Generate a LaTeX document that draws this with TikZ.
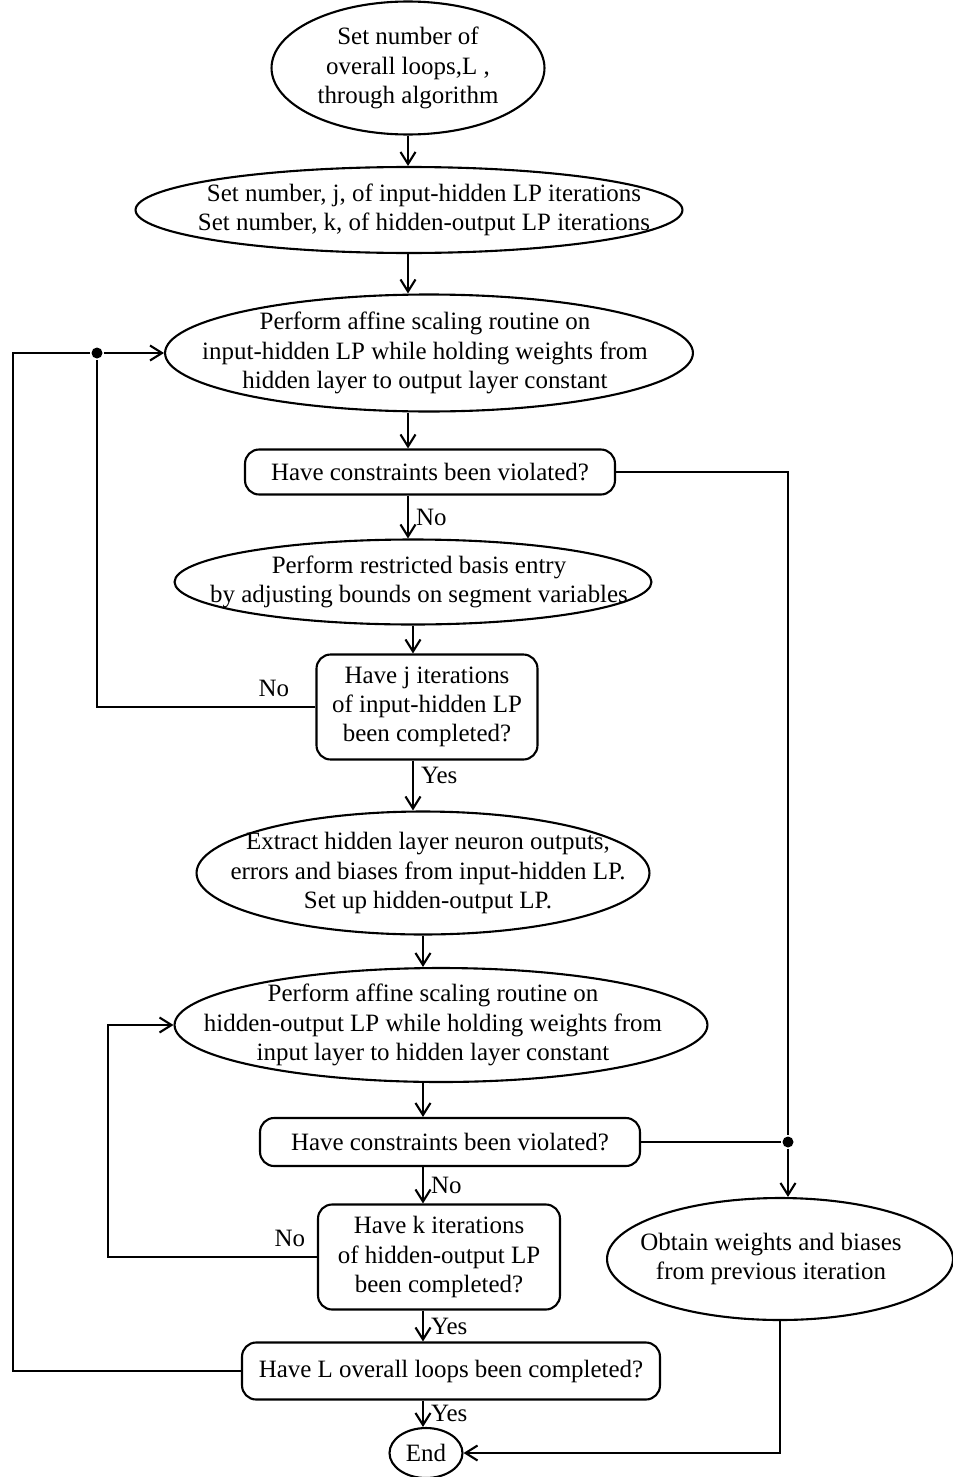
\documentclass[tikz,border=0pt]{standalone}
\usepackage{fontspec}
\setmainfont{Liberation Serif}
\usetikzlibrary{shapes.geometric,arrows.meta}

\begin{document}
\begin{tikzpicture}[x=0.02cm, y=-0.02cm, line width=1.2pt,
	every node/.style={font=\fontsize{14.2}{16.6}\selectfont},
	oval/.style={draw, ellipse, inner sep=0pt},
	txt/.style={align=center, inner sep=0pt},
	test/.style={draw, rounded corners=8pt, align=center, inner sep=0pt},
	flow/.style={-{Straight Barb[length=2.4mm,width=3mm]}},
	junc/.style={circle, fill, inner sep=0pt, minimum size=2.2mm},
	ans/.style={anchor=west, inner sep=1pt, xshift=3pt}]
	\useasboundingbox (0,0) rectangle (953,1477);
	% ovals: shape first, text on top
	\node[oval, minimum width=5.46cm, minimum height=2.66cm] (setL) at (408,68) {};
	\node[txt] (setLt) at (setL) {Set number of\\overall loops,L ,\\through algorithm};
	\node[oval, minimum width=10.94cm, minimum height=1.72cm] (setjk) at (409,210) {};
	\node[txt] (setjkt) at (424,210) {Set number, j, of input-hidden LP iterations\\Set number, k, of hidden-output LP iterations};
	\node[oval, minimum width=10.56cm, minimum height=2.34cm] (ihlp) at (429,353) {};
	\node[txt] (ihlpt) at (425,353) {Perform affine scaling routine on\\input-hidden LP while holding weights from\\hidden layer to output layer constant};
	\node[test, minimum width=7.4cm, minimum height=0.9cm] (viol1) at (430,472) {Have constraints been violated?};
	\node[oval, minimum width=9.54cm, minimum height=1.7cm] (rbe) at (413,582) {};
	\node[txt] (rbet) at (419,582) {Perform restricted basis entry\\by adjusting bounds on segment variables};
	\node[test, minimum width=4.42cm, minimum height=2.1cm] (iterj) at (427,707) {Have j iterations\\of input-hidden LP\\been completed?};
	\node[oval, minimum width=9.06cm, minimum height=2.46cm] (extr) at (423,873) {};
	\node[txt] (extrt) at (428,873) {Extract hidden layer neuron outputs,\\errors and biases from input-hidden LP.\\Set up hidden-output LP.};
	\node[oval, minimum width=10.66cm, minimum height=2.28cm] (holp) at (441,1025) {};
	\node[txt] (holpt) at (433,1025) {Perform affine scaling routine on\\hidden-output LP while holding weights from\\input layer to hidden layer constant};
	\node[test, minimum width=7.6cm, minimum height=0.96cm] (viol2) at (450,1142) {Have constraints been violated?};
	\node[test, minimum width=4.84cm, minimum height=2.1cm] (iterk) at (439,1257) {Have k iterations\\of hidden-output LP\\been completed?};
	\node[oval, minimum width=6.92cm, minimum height=2.44cm] (prev) at (780,1259) {};
	\node[txt] (prevt) at (771,1259) {Obtain weights and biases\\from previous iteration};
	\node[test, minimum width=8.36cm, minimum height=1.14cm] (loopL) at (451,1371) {Have L overall loops been completed?};
	\node[oval, minimum width=1.46cm, minimum height=1cm] (stop) at (426,1453) {};
	\node[txt] (stopt) at (stop) {End};
	% junctions and corners
	\node[junc] (j1) at (97,353) {};
	\node[junc] (j2) at (788,1142) {};
	\coordinate (outer) at (13,353);
	\coordinate (kback) at (108,1025);
	% main column
	\draw[flow] (setL.south) -- (setL.south |- setjk.north);
	\draw[flow] (setL.south |- setjk.south) -- (setL.south |- ihlp.north);
	\draw[flow] (setL.south |- ihlp.south) -- (setL.south |- viol1.north);
	\draw[flow] (setL.south |- viol1.south) -- (setL.south |- rbe.north) node[ans, midway] {No};
	\draw[flow] (rbe.south) -- (rbe.south |- iterj.north);
	\draw[flow] (rbe.south |- iterj.south) -- (rbe.south |- extr.north) node[ans, pos=0.3] {Yes};
	\draw[flow] (extr.south) -- (extr.south |- holp.north);
	\draw[flow] (extr.south |- holp.south) -- (extr.south |- viol2.north);
	\draw[flow] (extr.south |- viol2.south) -- (extr.south |- iterk.north) node[ans, midway] {No};
	\draw[flow] (extr.south |- iterk.south) -- (extr.south |- loopL.north) node[ans, midway] {Yes};
	\draw[flow] (extr.south |- loopL.south) -- (extr.south |- stop.north) node[ans, midway] {Yes};
	% side branches
	\draw (viol1.east) -| (j2);
	\draw (viol2.east) -- (j2);
	\draw[flow] (j2) -- (j2 |- prev.north);
	\draw (iterj.west) -| (j1) node[pos=0.095, above=2pt] {No};
	\draw[flow] (j1) -- (ihlp.west);
	\draw (loopL.west) -| (outer) -- (j1);
	\draw[flow] (iterk.west) -| (kback) node[pos=0.065, above=2pt] {No} -- (holp.west);
	\draw[flow] (prev.south) |- (stop.east);
\end{tikzpicture}
\end{document}
